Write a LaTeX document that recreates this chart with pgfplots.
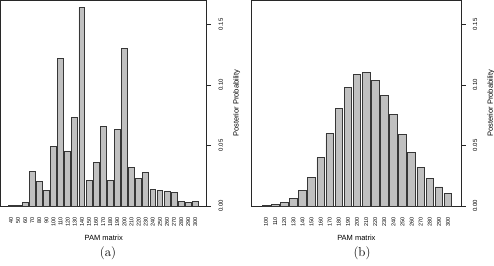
\documentclass[border=0pt]{standalone}
\usepackage{fontspec}
\usepackage{pgfplots}
\pgfplotsset{compat=1.18}
\newfontfamily\hv{Liberation Sans}
\definecolor{barfill}{RGB}{192,192,192}
\definecolor{baredge}{RGB}{55,55,55}
\definecolor{axcol}{RGB}{40,40,40}
\pgfplotsset{
  panel/.style={
    scale only axis,
    anchor=south west,
    height=205.3pt,
    ymin=0, ymax=0.1695,
    axis line style={axcol, line width=0.7pt},
    ytick={0,0.05,0.10,0.15},
    ytick pos=right,
    yticklabel pos=right,
    tick align=outside,
    major tick length=4.5pt,
    ytick style={axcol, line width=0.7pt},
    xtick style={draw=none},
    xtick=data,
    /pgf/number format/assume math mode=true,
    /pgf/number format/fixed,
    /pgf/number format/fixed zerofill,
    /pgf/number format/precision=2,
    yticklabel style={font=\hv\fontsize{6}{7}\selectfont, rotate=90, anchor=north},
    yticklabel shift=4pt,
    xticklabel style={font=\hv\fontsize{5.5}{6}\selectfont, rotate=90, anchor=east},
    xticklabel shift=3pt,
    xlabel={PAM matrix},
    xlabel style={font=\hv\fontsize{7.5}{9}\selectfont, at={(axis description cs:0.5,0)}, anchor=center, yshift=-32pt},
    ylabel={Posterior Probability},
    ylabel style={font=\hv\fontsize{7.5}{9}\selectfont, at={(axis description cs:1,0.5)}, anchor=center, yshift=-30pt},
    ybar, bar width=0.83,
    clip=false,
  }
}
\begin{document}
\begin{tikzpicture}
\useasboundingbox (0pt,0pt) rectangle (494pt,265pt);
\begin{axis}[panel, at={(0.7pt,59pt)}, width=206pt,
  xmin=-1.445, xmax=27.6,
  xticklabels={40,50,60,70,80,90,100,110,120,130,140,150,160,170,180,190,200,210,220,230,240,250,260,270,280,290,300}]
\addplot[fill=barfill, draw=baredge, line width=0.7pt] coordinates {
(0,0.0003) (1,0.0008) (2,0.0030) (3,0.0288) (4,0.0206) (5,0.0129) (6,0.0494)
(7,0.1216) (8,0.0453) (9,0.0730) (10,0.1640) (11,0.0214) (12,0.0357) (13,0.0659)
(14,0.0211) (15,0.0632) (16,0.1300) (17,0.0321) (18,0.0225) (19,0.0277) (20,0.0140)
(21,0.0129) (22,0.0118) (23,0.0115) (24,0.0041) (25,0.0030) (26,0.0035)};
\end{axis}
\begin{axis}[panel, at={(251.7pt,59pt)}, width=209.3pt,
  xmin=-1.58, xmax=21.43,
  xticklabels={100,110,120,130,140,150,160,170,180,190,200,210,220,230,240,250,260,270,280,290,300}]
\addplot[fill=barfill, draw=baredge, line width=0.7pt] coordinates {
(0,0.0003) (1,0.0010) (2,0.0027) (3,0.0063) (4,0.0129) (5,0.0236) (6,0.0398)
(7,0.0596) (8,0.0805) (9,0.0978) (10,0.1085) (11,0.1104) (12,0.1040) (13,0.0912)
(14,0.0755) (15,0.0593) (16,0.0442) (17,0.0321) (18,0.0225) (19,0.0157) (20,0.0104)};
\end{axis}
\node at (108pt,12pt) {\fontsize{13}{15}\selectfont (a)};
\node at (362pt,12pt) {\fontsize{13}{15}\selectfont (b)};
\end{tikzpicture}
\end{document}
